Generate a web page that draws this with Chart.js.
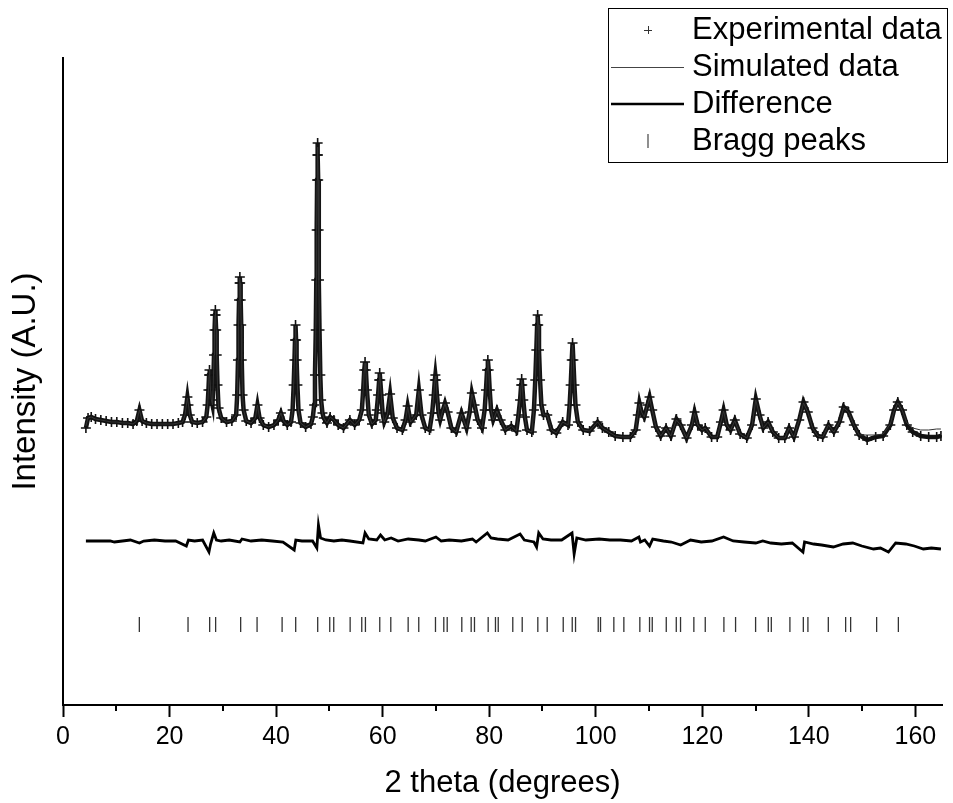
<!DOCTYPE html>
<html>
<head>
<meta charset="utf-8">
<script src="https://cdn.jsdelivr.net/npm/chart.js@4.4.1/dist/chart.umd.min.js"></script>
<style>
  html, body { margin: 0; padding: 0; background: #ffffff; }
  #wrap { width: 953px; height: 803px; position: relative; }
</style>
</head>
<body>
<div id="wrap"><canvas id="chart" width="953" height="803"></canvas></div>
<script>
// ---------- data (arbitrary intensity units) ----------
const twoTheta = [
  4.3,4.7,5.3,6.1,7.1,8.1,9.1,10.1,11.15,12.15,
  13.15,13.85,14.35,14.85,15.65,16.65,17.65,18.65,19.65,20.65,
  21.65,22.45,22.9,23.15,23.35,23.55,23.8,24.25,25.2,26.2,
  26.9,27.15,27.3,27.42,27.5,27.58,27.7,27.85,28.05,28.2,
  28.35,28.45,28.55,28.6,28.65,28.75,28.85,29.0,29.2,29.7,
  30.7,31.7,32.5,32.7,32.85,32.95,33.05,33.15,33.2,33.25,
  33.35,33.45,33.55,33.7,33.9,34.4,35.3,36.1,36.5,36.9,
  37.6,38.6,39.6,40.4,40.9,41.4,42.1,42.8,43.1,43.3,
  43.45,43.55,43.65,43.75,43.85,44.0,44.2,44.6,45.55,46.55,
  46.9,47.15,47.3,47.45,47.55,47.62,47.7,47.76,47.8,47.84,
  47.9,47.98,48.05,48.15,48.3,48.45,48.7,48.95,49.55,50.15,
  50.85,51.65,52.65,53.85,54.75,55.6,56.1,56.35,56.55,56.7,
  56.85,57.05,57.4,58.0,58.7,58.9,59.15,59.35,59.45,59.55,
  59.75,60.0,60.3,60.9,61.4,61.9,62.7,63.7,64.3,64.7,
  65.25,66.3,66.8,67.3,68.0,68.8,69.3,69.6,69.8,69.9,
  70.0,70.2,70.5,70.8,71.3,71.7,72.2,72.9,73.8,74.8,
  75.75,76.35,76.75,77.25,77.85,78.65,79.15,79.4,79.6,79.75,
  79.9,80.1,80.35,80.75,81.45,82.15,83.05,84.15,85.1,85.5,
  85.8,86.0,86.1,86.2,86.4,86.7,87.1,88.0,88.4,88.65,
  88.85,89.0,89.1,89.2,89.35,89.55,89.8,90.2,90.9,91.7,
  92.6,93.8,94.8,95.1,95.3,95.5,95.65,95.8,96.0,96.2,
  96.65,97.65,98.85,100.35,101.25,102.45,103.65,105.1,106.5,107.5,
  107.9,108.2,108.6,109.1,109.7,110.1,110.6,111.3,112.2,113.2,
  114.1,115.15,115.95,117.05,118.05,118.55,119.15,119.95,120.55,121.75,
  122.8,123.5,124.0,124.6,125.3,126.1,127.1,128.35,129.35,130.05,
  130.75,131.45,132.35,133.25,134.35,135.5,136.3,137.2,138.2,139.0,
  139.8,140.7,141.7,142.6,143.7,144.7,145.75,146.55,147.45,148.45,
  149.45,150.95,152.55,153.95,155.3,156.0,156.7,157.5,158.4,159.5,
  161.0,162.5,164.0,164.8];

const observed = [
  277,287,288,286,285,284,283,283,282,282,
  281,284,295,284,282,281,281,281,281,281,
  282,283,290,300,308,300,290,283,282,283,
  288,300,315,330,335,330,315,305,300,320,
  350,375,390,395,390,375,350,320,297,287,
  283,284,290,310,345,380,405,422,428,422,
  405,380,345,310,295,284,282,287,300,287,
  280,278,280,285,292,284,280,283,295,320,
  345,365,380,365,345,320,295,282,278,281,
  288,300,330,375,425,475,525,550,562,550,
  525,475,425,375,330,305,292,287,282,288,
  285,280,277,285,280,285,295,315,335,343,
  335,315,290,281,285,295,310,325,332,325,
  310,292,283,291,311,287,277,275,285,299,
  283,290,315,290,277,275,292,310,325,330,
  325,310,292,285,295,302,293,277,273,292,
  277,293,312,300,285,277,295,315,335,345,
  335,315,295,285,295,285,275,279,274,290,
  305,320,326,320,305,288,275,273,295,325,
  355,380,390,380,355,325,300,290,290,275,
  272,283,280,300,320,345,362,345,320,300,
  283,275,274,283,277,273,269,268,268,275,
  290,302,293,288,300,308,295,278,269,277,
  269,286,280,267,280,293,280,275,277,268,
  268,283,295,280,275,285,271,267,280,306,
  290,277,283,273,267,267,277,268,285,303,
  293,277,269,268,280,273,283,298,293,280,
  270,265,268,269,280,295,303,295,280,273,
  269,268,268,269];

const simulated = [
  279,287,288,286,285,284,283,283,282,282,
  281,284,295,284,282,281,281,281,281,281,
  282,283,290,300,307,300,290,283,282,283,
  288,300,315,330,336,330,315,305,300,320,
  350,375,390,394,390,375,350,320,297,287,
  283,284,290,310,345,380,405,422,427,422,
  405,380,345,310,295,284,282,287,300,287,
  280,278,280,285,292,284,280,283,295,320,
  345,365,379,365,345,320,295,282,278,281,
  288,300,330,375,425,475,525,550,558,550,
  525,475,425,375,330,305,292,287,282,288,
  285,280,277,285,280,285,295,315,335,342,
  335,315,290,281,285,295,310,325,331,325,
  310,292,283,291,310,287,277,275,285,298,
  283,290,314,290,277,275,292,310,325,329,
  325,310,292,285,295,301,293,277,273,291,
  277,293,311,300,285,277,295,315,335,344,
  335,315,295,285,294,285,275,279,274,290,
  305,320,325,320,305,288,275,273,295,325,
  355,380,388,380,355,325,300,290,290,275,
  272,283,280,300,320,345,360,345,320,300,
  283,275,274,283,277,273,269,268,268,275,
  290,301,293,288,300,307,295,278,269,277,
  269,285,280,267,280,292,280,275,277,268,
  268,283,294,280,275,284,271,267,280,305,
  290,277,283,273,267,267,277,268,285,302,
  293,277,269,268,280,273,283,297,293,280,
  270,270,270,271,281,294,302,295,282,277,
  275,275,276,276];

const diffTheta = [
  4.3,8.85,9.65,11.15,12.65,14.35,15.15,17.15,19.15,21.15,
  23.15,23.55,24.7,26.2,27.4,27.7,28.3,28.8,29.7,31.2,
  33.2,33.6,35.3,37.3,39.3,41.3,43.4,43.7,44.85,46.85,
  47.65,47.95,48.35,49.35,50.85,52.35,53.85,56.3,56.7,57.4,
  58.9,59.6,60.4,61.6,62.9,64.8,66.8,68.0,70.0,71.0,
  72.5,74.8,76.85,77.55,79.65,80.35,81.55,83.55,85.8,86.6,
  88.4,88.9,89.3,90.1,91.6,93.6,95.55,95.95,96.45,98.15,
  100.65,102.65,104.65,106.7,108.1,108.4,109.2,110.1,110.7,112.7,
  114.2,115.95,117.8,119.8,121.8,124.0,125.8,127.85,130.05,131.35,
  132.85,134.85,136.9,138.9,139.2,140.9,142.4,144.6,146.45,148.25,
  149.95,152.15,153.45,154.95,156.3,158.2,159.8,161.5,163.0,164.8];

const difference = [
  0,0,-1,0,1,-2,0,1,0,0,
  -5,1,0,1,-11,-3,8,1,0,1,
  -1,2,0,1,0,-1,-9,1,0,0,
  -7,16,3,1,0,1,0,-2,8,2,
  1,6,1,3,0,2,1,0,4,0,
  1,0,2,-1,8,3,2,1,7,1,
  -1,-6,8,2,1,1,8,-13,3,1,
  2,1,1,0,4,-1,1,-5,2,0,
  -1,-4,1,-1,0,4,0,-1,-2,0,
  -2,-3,-2,-11,-1,-3,-4,-6,-3,-2,
  -5,-8,-7,-11,-2,-3,-5,-8,-7,-8];

const braggPeaks = [14.33,23.47,27.53,28.65,33.35,36.43,41.13,43.68,47.81,50.07,50.82,53.9,56.08,56.77,59.46,61.53,64.79,66.78,69.92,71.48,
  72.12,74.86,76.62,77.24,79.81,81.18,81.7,84.43,86.2,89.13,90.89,93.9,95.59,96.21,100.47,100.9,103.4,105.28,108.28,110.1,
  110.61,113.24,115.12,115.92,118.42,120.56,124.06,126.25,130.01,132.39,132.96,136.45,138.97,139.83,143.66,146.91,147.85,152.73,156.81];

const diffOffset = 164;     // vertical offset of the difference curve
const braggLevel = 80.5;    // vertical level of the Bragg peak markers
const xMajorTicks = [0, 20, 40, 60, 80, 100, 120, 140, 160];
const xMinorTicks = [10, 30, 50, 70, 90, 110, 130, 150];
const legendLabels = ['Experimental data', 'Simulated data', 'Difference', 'Bragg peaks'];

// ---------- build datasets ----------
const obsPts = twoTheta.map((x, i) => ({ x: x, y: observed[i] }));
const simPts = twoTheta.map((x, i) => ({ x: x, y: simulated[i] }));
const diffPts = diffTheta.map((x, i) => ({ x: x, y: difference[i] + diffOffset }));
const braggPts = braggPeaks.map(x => ({ x: x, y: braggLevel }));

const FONT = '"Liberation Sans", Arial, Helvetica, sans-serif';

const minorTickPlugin = {
  id: 'minorTicks',
  afterDraw(chart) {
    const s = chart.scales.x;
    const ctx = chart.ctx;
    ctx.save();
    ctx.strokeStyle = '#000';
    ctx.lineWidth = 2;
    xMinorTicks.forEach(v => {
      const px = Math.round(s.getPixelForValue(v));
      ctx.beginPath();
      ctx.moveTo(px, s.top);
      ctx.lineTo(px, s.top + 6);
      ctx.stroke();
    });
    ctx.restore();
  }
};

const boxLegendPlugin = {
  id: 'boxLegend',
  afterDraw(chart) {
    const ctx = chart.ctx;
    const bx = 608.5, by = 8.5, bw = 339, bh = 154;
    const rows = [30, 67, 104, 141];
    const symL = 611, symR = 684, symC = 648, textX = 692;
    ctx.save();
    ctx.fillStyle = '#fff';
    ctx.fillRect(bx, by, bw, bh);
    ctx.strokeStyle = '#000';
    ctx.lineWidth = 1;
    ctx.strokeRect(bx, by, bw, bh);
    ctx.strokeStyle = '#333';
    ctx.lineWidth = 1;
    ctx.beginPath();
    ctx.moveTo(symC - 4, rows[0] + 0.5); ctx.lineTo(symC + 4, rows[0] + 0.5);
    ctx.moveTo(symC + 0.5, rows[0] - 4); ctx.lineTo(symC + 0.5, rows[0] + 4);
    ctx.stroke();
    ctx.strokeStyle = '#444';
    ctx.lineWidth = 1;
    ctx.beginPath(); ctx.moveTo(symL, rows[1] + 0.5); ctx.lineTo(symR, rows[1] + 0.5); ctx.stroke();
    ctx.strokeStyle = '#000';
    ctx.lineWidth = 2.5;
    ctx.beginPath(); ctx.moveTo(symL, rows[2]); ctx.lineTo(symR, rows[2]); ctx.stroke();
    ctx.strokeStyle = '#444';
    ctx.lineWidth = 1.2;
    ctx.beginPath(); ctx.moveTo(symC, rows[3] - 7); ctx.lineTo(symC, rows[3] + 7); ctx.stroke();
    ctx.fillStyle = '#000';
    ctx.font = '31px ' + FONT;
    ctx.textBaseline = 'middle';
    ctx.textAlign = 'left';
    legendLabels.forEach((t, i) => ctx.fillText(t, textX, rows[i]));
    ctx.restore();
  }
};

new Chart(document.getElementById('chart'), {
  type: 'scatter',
  data: {
    datasets: [
      {
        label: legendLabels[1],
        data: simPts,
        showLine: true,
        borderColor: '#333',
        borderWidth: 1,
        pointRadius: 0,
        tension: 0
      },
      {
        label: legendLabels[0],
        data: obsPts,
        showLine: true,
        borderColor: 'rgba(0,0,0,0.92)',
        borderWidth: 4.5,
        pointStyle: 'cross',
        pointRadius: 5,
        pointBorderWidth: 1.6,
        pointBorderColor: '#111',
        pointBackgroundColor: '#111',
        tension: 0
      },
      {
        label: legendLabels[2],
        data: diffPts,
        showLine: true,
        borderColor: '#000',
        borderWidth: 2.8,
        pointRadius: 0,
        tension: 0
      },
      {
        label: legendLabels[3],
        data: braggPts,
        showLine: false,
        pointStyle: 'line',
        rotation: 90,
        pointRadius: 7.5,
        pointBorderWidth: 1.3,
        pointBorderColor: '#333',
        pointBackgroundColor: '#333'
      }
    ]
  },
  options: {
    responsive: false,
    animation: false,
    devicePixelRatio: 1,
    events: [],
    layout: { padding: { top: 58, right: 11, left: 0, bottom: 0 } },
    plugins: {
      legend: { display: false },
      tooltip: { enabled: false },
      title: { display: false }
    },
    scales: {
      x: {
        type: 'linear',
        min: 0,
        max: 165,
        afterFit: s => { s.height = 98; },
        afterBuildTicks: s => { s.ticks = xMajorTicks.map(v => ({ value: v })); },
        border: { display: true, color: '#000', width: 2 },
        grid: { display: true, drawOnChartArea: false, drawTicks: true, tickLength: 12, tickWidth: 2, tickColor: '#000', color: '#000' },
        ticks: { color: '#000', font: { family: FONT, size: 25 }, padding: 5, maxRotation: 0, autoSkip: false, includeBounds: false },
        title: { display: true, text: '2 theta (degrees)', color: '#000', font: { family: FONT, size: 31 }, padding: { top: 0, bottom: 1 } }
      },
      y: {
        type: 'linear',
        min: 0,
        max: 647,
        afterFit: s => { s.width = 63; },
        border: { display: true, color: '#000', width: 2 },
        grid: { display: false },
        ticks: { display: false },
        title: { display: true, text: 'Intensity (A.U.)', color: '#000', font: { family: FONT, size: 33 }, padding: { top: 6, bottom: 0 } }
      }
    }
  },
  plugins: [minorTickPlugin, boxLegendPlugin]
});
</script>
</body>
</html>
